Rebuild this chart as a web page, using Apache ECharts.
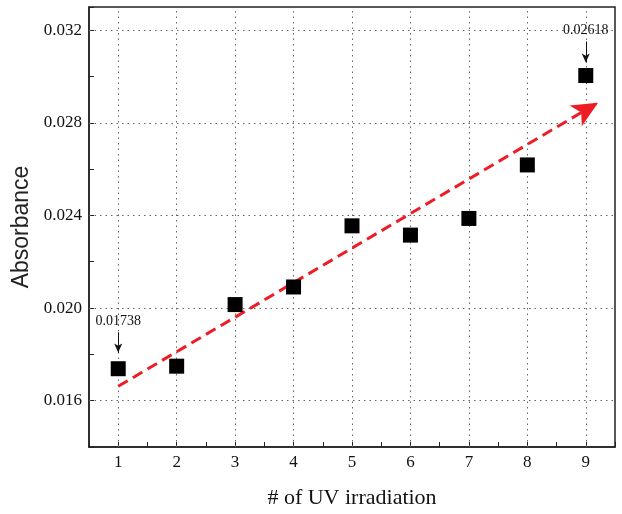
<!DOCTYPE html>
<html>
<head>
<meta charset="utf-8">
<script src="https://cdn.jsdelivr.net/npm/echarts@6/dist/echarts.min.js"></script>
<style>
  html, body { margin: 0; padding: 0; background: #fff; }
  #chart { width: 622px; height: 514px; }
</style>
</head>
<body>
<div id="chart"></div>
<script>
    'use strict';

    // UV irradiation count vs absorbance
    var uvRuns = [1, 2, 3, 4, 5, 6, 7, 8, 9];
    var absorbance = [0.01738, 0.01749, 0.02015, 0.02091, 0.02355, 0.02315, 0.02387, 0.02618, 0.03004];

    // trend arrow (start, end) in data units
    var trendStart = [1, 0.01662];
    var trendEnd = [9.21, 0.02887];

    // callouts: text, arrow top, arrow bottom
    var calloutText = ['0.01738', '0.02618'];
    var calloutTop = [[1, 0.01895], [9, 0.03151]];
    var calloutBottom = [[1, 0.01808], [9, 0.03060]];

    // dotted grid lines
    var yGrid = [0.016, 0.020, 0.024, 0.028, 0.032];
    var xGrid = [1, 2, 3, 4, 5, 6, 7, 8, 9];
    var xRange = [0.5, 9.5];
    var yRange = [0.014, 0.033];

    var FONT = '"Liberation Serif", "DejaVu Serif", serif';
    var SANS = '"Liberation Sans", Arial, sans-serif';

    var points = uvRuns.map(function(x, i) { return [x, absorbance[i]]; });

    var gridLines = [];
    yGrid.forEach(function(v) {
        gridLines.push([{ coord: [xRange[0], v] }, { coord: [xRange[1], v] }]);
    });
    xGrid.forEach(function(v) {
        gridLines.push([{ coord: [v, yRange[0]] }, { coord: [v, yRange[1]] }]);
    });

    var callouts = calloutText.map(function(t, i) {
        return [
            { coord: calloutTop[i], label: { formatter: t } },
            { coord: calloutBottom[i] }
        ];
    });

    var myChart = echarts.init(document.getElementById('chart'));

    myChart.setOption({
        animation: false,
        backgroundColor: '#fff',
        grid: {
            left: 89, right: 7, top: 7, bottom: 67,
            containLabel: false,
            outerBoundsMode: 'none',
            show: true, borderColor: '#222', borderWidth: 1.5
        },
        xAxis: {
            type: 'value',
            min: xRange[0], max: xRange[1], interval: 0.5,
            name: '# of UV irradiation',
            nameLocation: 'middle',
            nameGap: 40,
            nameTextStyle: { fontFamily: FONT, fontSize: 22, color: '#111' },
            axisLine: { lineStyle: { color: '#222', width: 1.5 } },
            axisTick: { inside: true, length: 5, lineStyle: { color: '#222' } },
            axisLabel: {
                fontFamily: FONT, fontSize: 17, color: '#111', margin: 7,
                formatter: function(v) {
                    return Math.abs(v - Math.round(v)) < 1e-6 ? String(Math.round(v)) : '';
                }
            },
            splitLine: { show: false }
        },
        yAxis: {
            type: 'value',
            min: yRange[0], max: yRange[1], interval: 0.002,
            name: 'Absorbance',
            nameLocation: 'middle',
            nameGap: 45,
            nameRotate: 90,
            nameTextStyle: { fontFamily: SANS, fontSize: 23, color: '#222' },
            axisLine: { show: true, lineStyle: { color: '#222', width: 1.5 } },
            axisTick: { show: true, inside: true, length: 5, lineStyle: { color: '#222' } },
            axisLabel: {
                fontFamily: FONT, fontSize: 17, color: '#111', margin: 7,
                formatter: function(v) {
                    var k = v / 0.004;
                    return Math.abs(k - Math.round(k)) < 1e-6 ? v.toFixed(3) : '';
                }
            },
            splitLine: { show: false }
        },
        series: [
            {
                name: 'grid',
                type: 'line',
                data: [],
                markLine: {
                    silent: true,
                    symbol: ['none', 'none'],
                    label: { show: false },
                    lineStyle: { color: '#666', width: 1, type: [1.5, 4] },
                    data: gridLines
                }
            },
            {
                name: 'trend',
                type: 'line',
                data: [],
                markLine: {
                    silent: true,
                    symbol: ['none', 'arrow'],
                    symbolSize: [18, 26],
                    label: { show: false },
                    lineStyle: { color: '#ee1c25', width: 3, type: [11, 6] },
                    data: [[{ coord: trendStart }, { coord: trendEnd }]]
                }
            },
            {
                name: 'absorbance',
                type: 'scatter',
                symbol: 'rect',
                symbolSize: 15,
                itemStyle: { color: '#000', opacity: 1 },
                data: points,
                z: 5,
                markLine: {
                    silent: true,
                    symbol: ['none', 'arrow'],
                    symbolSize: [6, 9],
                    lineStyle: { color: '#111', width: 1, type: 'solid' },
                    label: {
                        show: true, position: 'start', distance: 4,
                        fontFamily: FONT, fontSize: 14, color: '#111'
                    },
                    data: callouts
                }
            }
        ]
    });
</script>
</body>
</html>
